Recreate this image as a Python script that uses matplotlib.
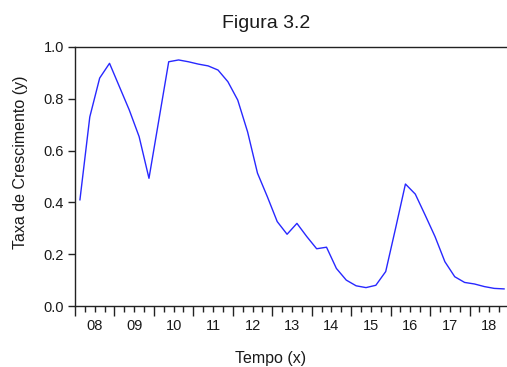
import numpy as np
import matplotlib
matplotlib.use('Agg')
import matplotlib.pyplot as plt
import matplotlib.transforms as mtransforms

plt.rcParams['font.family'] = ['Liberation Sans', 'DejaVu Sans']

# quarterly growth rate, 2008Q1 .. 2018Q4
taxa = [0.41, 0.73, 0.88, 0.937, 0.847, 0.757, 0.654, 0.493,
        0.718, 0.943, 0.950, 0.943, 0.934, 0.927, 0.911, 0.866,
        0.795, 0.672, 0.513, 0.422, 0.326, 0.277, 0.319, 0.268,
        0.221, 0.227, 0.145, 0.100, 0.078, 0.071, 0.080, 0.133,
        0.300, 0.471, 0.432, 0.351, 0.268, 0.171, 0.113, 0.091,
        0.085, 0.075, 0.068, 0.066]
anos = list(range(2008, 2019))
rotulos_anos = ['%02d' % (a % 100) for a in anos]
yticks = [0.0, 0.2, 0.4, 0.6, 0.8, 1.0]

t = 2008 + (np.arange(len(taxa)) + 0.5) / 4.0
cor_texto = '#1a1a1a'

fig = plt.figure(figsize=(5.07, 3.67), dpi=100)
ax = fig.add_axes([75 / 507, 1 - 306 / 367, 434 / 507, 259 / 367])

ax.plot(t, taxa, color='#2828FF', lw=1.0)

ax.set_xlim(2008, 2019)
ax.set_ylim(0, 1.0)

for s in ['left', 'top', 'bottom']:
    ax.spines[s].set_linewidth(1.0)
    ax.spines[s].set_color('#222222')
ax.spines['right'].set_visible(False)

ax.set_yticks(yticks)
ax.set_yticklabels(['%.1f' % v for v in yticks], fontsize=10.5, color=cor_texto)
ax.tick_params(axis='y', direction='out', length=5, width=1, pad=3, color='#222222')

ax.set_xticks(anos)
ax.set_xticklabels([])
ax.set_xticks(np.arange(2008, 2019.01, 0.25), minor=True)
ax.tick_params(axis='x', which='major', direction='out', length=7, width=1, color='#222222')
ax.tick_params(axis='x', which='minor', direction='out', length=4, width=1, color='#222222')

trans = mtransforms.blended_transform_factory(ax.transData, ax.transAxes)
for a, r in zip(anos, rotulos_anos):
    ax.text(a + 0.5, -0.077, r, transform=trans, ha='center', va='center',
            fontsize=10.5, color=cor_texto)

fig.text(266 / 507, 1 - 24 / 367, 'Figura 3.2', ha='center', va='center',
         fontsize=14, color=cor_texto)
fig.text(21 / 507, 1 - 162 / 367, 'Taxa de Crescimento (y)', rotation=90,
         ha='center', va='center', fontsize=11.5, color=cor_texto)
fig.text(271 / 507, 1 - 358 / 367, 'Tempo (x)', ha='center', va='center',
         fontsize=11.5, color=cor_texto)

fig.savefig('out.png', dpi=100)
